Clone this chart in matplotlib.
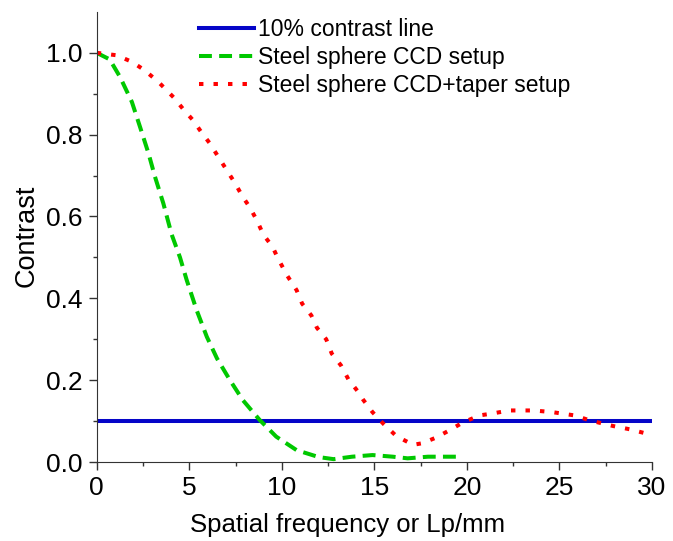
import numpy as np
import matplotlib
matplotlib.use('Agg')
import matplotlib.pyplot as plt

plt.rcParams['font.family'] = ['Liberation Sans', 'DejaVu Sans']

# 10% contrast reference
ref_x = [0, 30]
ref_y = [0.1, 0.1]

# Steel sphere CCD setup
ccd_x = [0, 0.7, 1.26, 1.9, 2.34, 2.8, 3.15, 3.6, 4.05, 4.5, 4.86, 5.4, 5.95,
         6.5, 7.2, 7.9, 8.8, 9.7, 10.8, 12.0, 12.8, 13.8, 14.9, 16.0, 16.8,
         17.9, 19.5]
ccd_y = [1.0, 0.984, 0.941, 0.88, 0.819, 0.754, 0.697, 0.632, 0.556, 0.50,
         0.445, 0.371, 0.306, 0.253, 0.20, 0.151, 0.103, 0.062, 0.029, 0.012,
         0.007, 0.013, 0.017, 0.013, 0.009, 0.013, 0.013]

# Steel sphere CCD+taper setup
taper_x = [0, 1.08, 1.9, 2.57, 3.33, 4.18, 4.68, 5.19, 5.64, 6.09, 6.54, 7.03,
           7.48, 7.89, 8.25, 8.65, 9.0, 9.5, 9.8, 10.3, 10.8, 11.1, 11.6, 11.9,
           12.4, 12.7, 13.2, 13.6, 14.1, 14.4, 14.9, 15.5, 16.2, 17.1, 17.6,
           18.3, 19.0, 19.8, 20.7, 21.3, 22.3, 23.6, 24.6, 25.8, 26.7, 27.9,
           28.8, 30.0]
taper_y = [1.0, 0.994, 0.978, 0.958, 0.929, 0.89, 0.862, 0.836, 0.807, 0.78,
           0.748, 0.713, 0.681, 0.648, 0.624, 0.591, 0.556, 0.526, 0.497, 0.455,
           0.42, 0.387, 0.358, 0.328, 0.30, 0.265, 0.236, 0.202, 0.173, 0.152,
           0.122, 0.093, 0.063, 0.042, 0.046, 0.059, 0.076, 0.097, 0.114, 0.118,
           0.126, 0.126, 0.122, 0.114, 0.101, 0.088, 0.08, 0.066]

fig = plt.figure(figsize=(6.73, 5.41), dpi=100)
ax = fig.add_axes([0.1437, 0.146, 0.825, 0.832])

ax.plot(ref_x, ref_y, color='#0505c8', lw=2.9, label='10% contrast line')
ax.plot(ccd_x, ccd_y, color='#00c800', lw=2.9, ls=(0, (3.2, 1.8)),
        label='Steel sphere CCD setup')
ax.plot(taper_x, taper_y, color='#ff0000', lw=2.9, ls=(0, (1.1, 2.5)),
        label='Steel sphere CCD+taper setup')

ax.set_xlim(0, 30)
ax.set_ylim(0, 1.1)
ax.set_xticks([0, 5, 10, 15, 20, 25, 30])
ax.set_xticks(np.arange(0, 30.1, 2.5), minor=True)
ax.set_yticks([0.0, 0.2, 0.4, 0.6, 0.8, 1.0])
ax.set_yticks(np.arange(0, 1.05, 0.1), minor=True)
ax.set_yticklabels(['0.0', '0.2', '0.4', '0.6', '0.8', '1.0'])

for s in ['top', 'right']:
    ax.spines[s].set_visible(False)
for s in ['left', 'bottom']:
    ax.spines[s].set_color('#333333')
ax.tick_params(labelsize=19, length=6, width=1, color='#333333', pad=4)
ax.tick_params(which='minor', length=3, width=1, color='#333333')

ax.set_xlabel('Spatial frequency or Lp/mm', fontsize=18.5)
ax.xaxis.set_label_coords(0.451, -0.156)
ax.xaxis.label.set_va('baseline')
ax.set_ylabel('Contrast', fontsize=19.5)
ax.yaxis.set_label_coords(-0.113, 0.502)
ax.yaxis.label.set_va('baseline')

ax.legend(loc='upper left', bbox_to_anchor=(0.184, 0.987), frameon=False,
          borderaxespad=0, borderpad=0,
          fontsize=16.5, handlelength=2.4, handletextpad=0.2, labelspacing=0.23)

fig.savefig('out.png')
